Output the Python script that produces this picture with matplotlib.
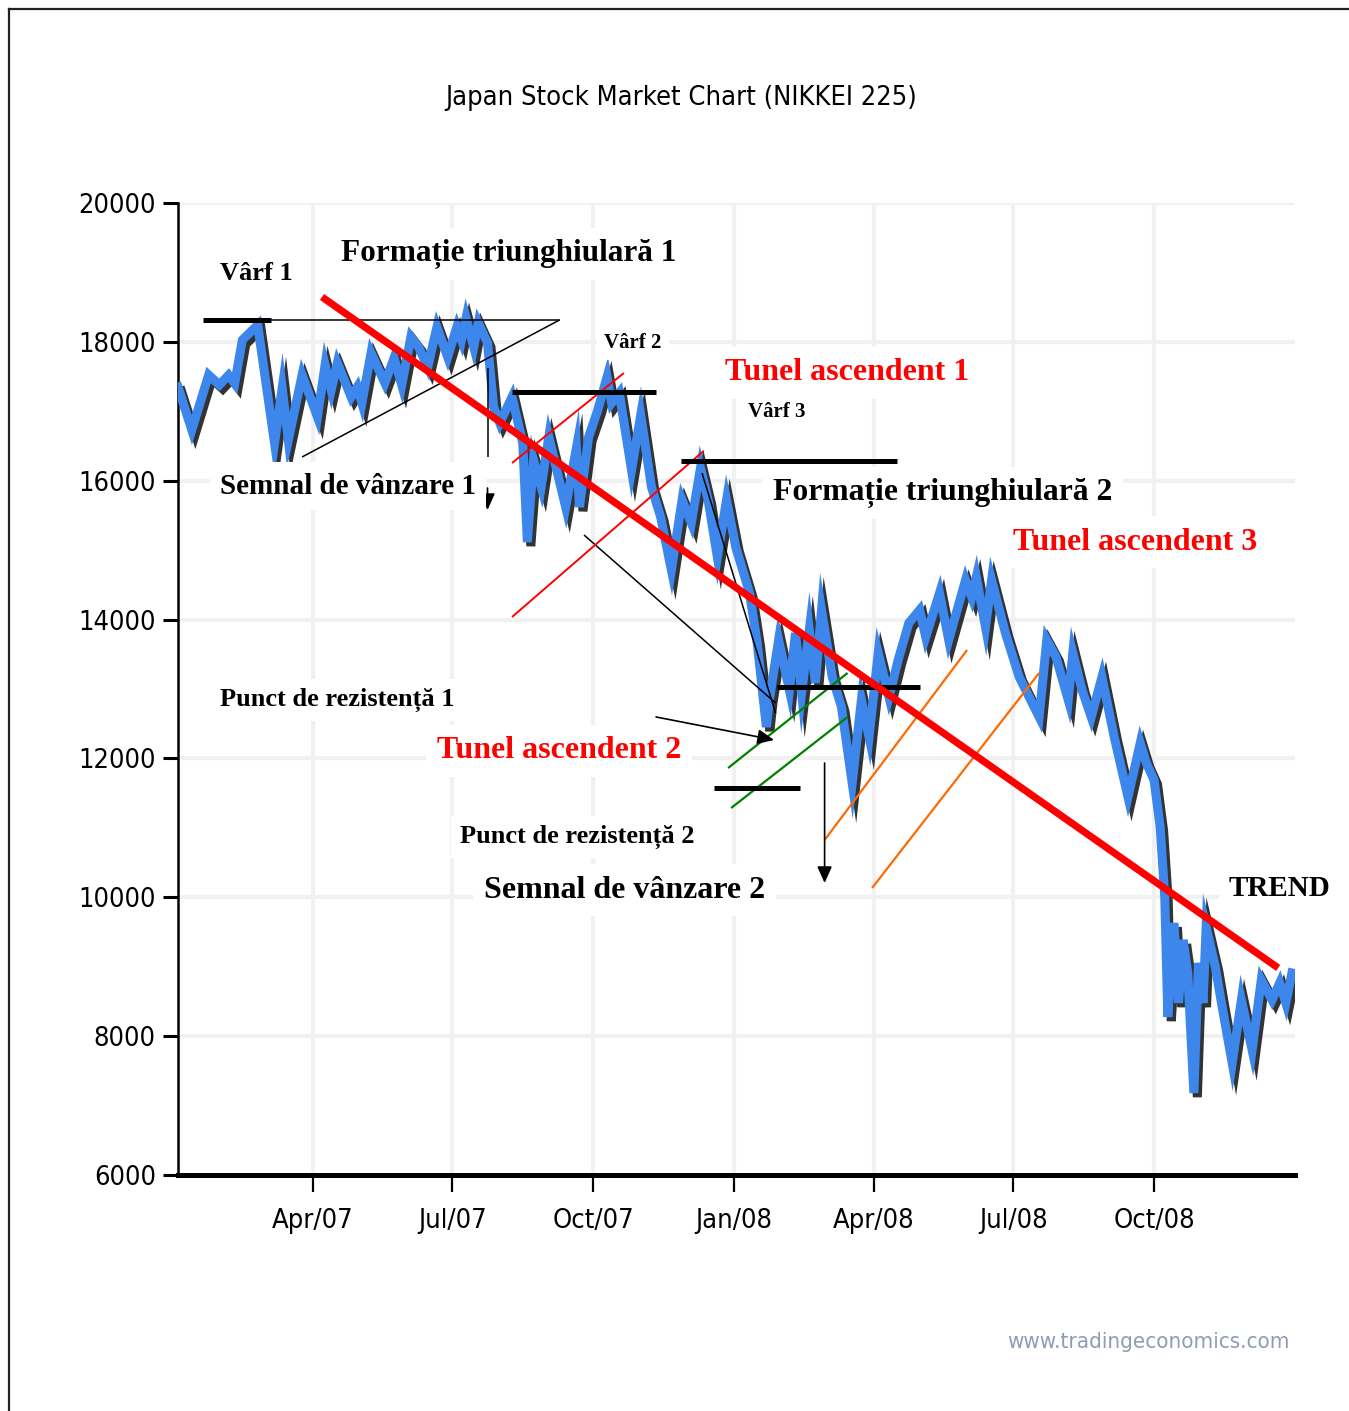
import numpy as np
import matplotlib
matplotlib.use("Agg")
import matplotlib.pyplot as plt
import matplotlib.dates as mdates
import matplotlib.patheffects as pe
from matplotlib import font_manager as fm
from matplotlib.lines import Line2D

# ---------------- data ----------------
dates = [
    "2007-01-03", "2007-01-12", "2007-01-23", "2007-01-30",
    "2007-02-05", "2007-02-09", "2007-02-14", "2007-02-24",
    "2007-03-07", "2007-03-12", "2007-03-16", "2007-03-25",
    "2007-04-04", "2007-04-09", "2007-04-13", "2007-04-17", "2007-04-26", "2007-04-30",
    "2007-05-03", "2007-05-09", "2007-05-18", "2007-05-24", "2007-05-29",
    "2007-06-04", "2007-06-09", "2007-06-15", "2007-06-21", "2007-06-28",
    "2007-07-04", "2007-07-07", "2007-07-10", "2007-07-15", "2007-07-18", "2007-07-24", "2007-07-28",
    "2007-08-01", "2007-08-09", "2007-08-16", "2007-08-19", "2007-08-23", "2007-08-28",
    "2007-09-02", "2007-09-13", "2007-09-20", "2007-09-22", "2007-09-28",
    "2007-10-04", "2007-10-10", "2007-10-13", "2007-10-18", "2007-10-26",
    "2007-11-01", "2007-11-08", "2007-11-14", "2007-11-21", "2007-11-28",
    "2007-12-04", "2007-12-10", "2007-12-15", "2007-12-21", "2007-12-27",
    "2008-01-02", "2008-01-11", "2008-01-16", "2008-01-22", "2008-01-24", "2008-01-30",
    "2008-02-06", "2008-02-10", "2008-02-14", "2008-02-19", "2008-02-23", "2008-02-27",
    "2008-03-05", "2008-03-11", "2008-03-18", "2008-03-24", "2008-03-29",
    "2008-04-04", "2008-04-11", "2008-04-17", "2008-04-24",
    "2008-05-01", "2008-05-05", "2008-05-14", "2008-05-20", "2008-05-31",
    "2008-06-04", "2008-06-07", "2008-06-13", "2008-06-17", "2008-06-26",
    "2008-07-05", "2008-07-18", "2008-07-23", "2008-07-29",
    "2008-08-06", "2008-08-09", "2008-08-15", "2008-08-21", "2008-08-28",
    "2008-09-05", "2008-09-14", "2008-09-22", "2008-09-26",
    "2008-10-01", "2008-10-05", "2008-10-08", "2008-10-10", "2008-10-14",
    "2008-10-17", "2008-10-20", "2008-10-23", "2008-10-27", "2008-10-30",
    "2008-11-02", "2008-11-04", "2008-11-10", "2008-11-14", "2008-11-21", "2008-11-27",
    "2008-12-04", "2008-12-10", "2008-12-17", "2008-12-22", "2008-12-26", "2008-12-30",
]
nikkei = [
    17350, 16731, 17523, 17380,
    17520, 17400, 18027, 18243,
    16543, 17335, 16586, 17523,
    16918, 17667, 17307, 17696, 17206, 17350,
    17119, 17840, 17407, 17768, 17379,
    18070, 17926, 17638, 18214, 17782,
    18214, 18027, 18344, 17926, 18272, 17984, 17062,
    16831, 17206, 16543, 15117, 16298, 15910,
    16630, 15621, 16471, 15621, 16630,
    17019, 17494, 17119, 17263, 16154,
    16947, 15910, 15477, 14714, 15722,
    15391, 16183, 15722, 14901, 15722,
    15045, 14383, 13663, 12453, 12850, 13706,
    12986, 13807, 12943, 13850, 13087, 14138,
    13173, 12741, 11646, 12842, 12309,
    13519, 12885, 13418, 13951,
    14138, 13749, 14383, 13706, 14570,
    14325, 14613, 13893, 14570, 13807,
    13173, 12597, 13706, 13461,
    12842, 13519, 12986, 12597, 13173,
    12309, 11445, 12222, 11934,
    11689, 11013, 10004, 8276, 9630,
    8478, 9385, 8910, 7181, 9054,
    8478, 9572, 8996, 8478, 7613, 8521,
    7801, 8809, 8521, 8766, 8478, 8910,
]

title = "Japan Stock Market Chart (NIKKEI 225)"
y_ticks = [6000, 8000, 10000, 12000, 14000, 16000, 18000, 20000]
x_tick_dates = ["2007-04-01", "2007-07-01", "2007-10-01", "2008-01-01",
                "2008-04-01", "2008-07-01", "2008-10-01"]
x_tick_labels = ["Apr/07", "Jul/07", "Oct/07", "Jan/08", "Apr/08", "Jul/08", "Oct/08"]
x_range = ["2007-01-03", "2009-01-01"]
y_range = [6000, 20000]

# annotation segments: (start date, start value, end date, end value)
trend_line = ("2007-04-07", 18646, "2008-12-21", 8982)
thick_levels = [  # horizontal peak / resistance levels
    ("2007-01-19", "2007-03-05", 18315),
    ("2007-08-09", "2007-11-11", 17278),
    ("2007-11-27", "2008-04-16", 16284),
    ("2008-01-29", "2008-05-01", 13029),
    ("2007-12-19", "2008-02-13", 11574),
]
thin_black = [
    ("2007-03-05", 18315, "2007-09-09", 18315),
    ("2007-09-09", 18315, "2007-03-25", 16342),
    ("2007-07-24", 17624, "2007-07-24", 16342),
    ("2007-12-11", 16111, "2008-01-28", 12654),
    ("2007-09-25", 15218, "2008-01-28", 12799),
]
red_channel = [
    ("2007-08-09", 16255, "2007-10-21", 17551),
    ("2007-08-09", 14037, "2007-12-12", 16428),
]
green_channel = [
    ("2007-12-28", 11862, "2008-03-15", 13231),
    ("2007-12-30", 11286, "2008-03-15", 12597),
]
orange_channel = [
    ("2008-02-29", 10825, "2008-06-01", 13562),
    ("2008-03-31", 10134, "2008-07-18", 13231),
]
arrows = [
    ("2007-07-24", 15895, "2007-07-24", 15578),
    ("2007-11-11", 12597, "2008-01-27", 12266),
    ("2008-02-29", 11934, "2008-02-29", 10206),
]

labels = [  # text, fig-x px, fig-y px, size, colour
    ("Vârf 1", 220, 273, 19, "black"),
    ("Formație triunghiulară 1", 341, 254, 22.5, "black"),
    ("Vârf 2", 604, 343, 15, "black"),
    ("Tunel ascendent 1", 725, 373, 23, "#ff0000"),
    ("Vârf 3", 748, 412, 15, "black"),
    ("Semnal de vânzare 1", 220, 486, 21, "black"),
    ("Formație triunghiulară 2", 773, 493, 22.8, "black"),
    ("Tunel ascendent 3", 1013, 542, 23, "#ff0000"),
    ("Punct de rezistență 1", 220, 700, 19, "black"),
    ("Tunel ascendent 2", 437, 751, 23, "#ff0000"),
    ("Punct de rezistență 2", 460, 837, 19, "black"),
    ("Semnal de vânzare 2", 484, 890, 23, "black"),
    ("TREND", 1229, 888, 21, "black"),
]
watermark = "www.tradingeconomics.com"

# ---------------- fonts ----------------
def _has(name):
    try:
        fm.findfont(fm.FontProperties(family=name), fallback_to_default=False)
        return True
    except Exception:
        return False

NARROW = "Liberation Sans Narrow" if _has("Liberation Sans Narrow") else "DejaVu Sans"
SERIF = "Liberation Serif"
narrow_kw = dict(family=[NARROW, "DejaVu Sans"], stretch="condensed")

# ---------------- figure ----------------
W, H = 1349, 1411
fig = plt.figure(figsize=(W / 100, H / 100), dpi=100)
fig.patch.set_facecolor("white")
ax = fig.add_axes([178 / W, 1 - 1175 / H, (1295 - 178) / W, (1175 - 203) / H])
ax.set_facecolor("white")

d = lambda s: mdates.date2num(np.datetime64(s))
xs = [d(s) for s in dates]

ax.set_xlim(d(x_range[0]), d(x_range[1]))
ax.set_ylim(*y_range)
ax.set_yticks(y_ticks)
ax.set_yticklabels([str(v) for v in y_ticks], fontsize=19.5, **narrow_kw)
ax.set_xticks([d(s) for s in x_tick_dates])
ax.set_xticklabels(x_tick_labels, fontsize=19.5, **narrow_kw)
ax.grid(True, color="#f1f1f1", linewidth=3, zorder=0)
ax.set_axisbelow(True)
for s in ("top", "right"):
    ax.spines[s].set_visible(False)
ax.spines["left"].set_linewidth(1.8)
ax.spines["bottom"].set_linewidth(3.6)
ax.tick_params(axis="y", length=11, width=2.2, pad=5, colors="black")
ax.tick_params(axis="x", length=12, width=1.6, pad=12, colors="black")

# price series with drop shadow
ax.plot(xs, nikkei, color="#3d87ec", linewidth=6.5, solid_joinstyle="miter", zorder=3,
        path_effects=[pe.SimpleLineShadow(offset=(2.5, -3), shadow_color="black", alpha=0.8),
                      pe.Normal()])

def seg(s, **kw):
    ax.plot([d(s[0]), d(s[2])], [s[1], s[3]], solid_capstyle="butt", **kw)

for s in thin_black:
    seg(s, color="black", linewidth=1.1, zorder=4)
for s in red_channel:
    seg(s, color="#ff0000", linewidth=1.4, zorder=4)
for s in green_channel:
    seg(s, color="#008000", linewidth=1.6, zorder=4)
for s in orange_channel:
    seg(s, color="#ff6a00", linewidth=1.6, zorder=4)
for a, b, v in thick_levels:
    ax.plot([d(a), d(b)], [v, v], color="black", linewidth=3.6, solid_capstyle="butt", zorder=5)
seg(trend_line, color="#ff0000", linewidth=5.2, zorder=6)

for s in arrows:
    ax.annotate("", xy=(d(s[2]), s[3]), xytext=(d(s[0]), s[1]), zorder=9,
                arrowprops=dict(arrowstyle="-|>,head_length=1.0,head_width=0.45",
                                color="black", linewidth=1.2, shrinkA=0, shrinkB=0))

# text labels with white boxes
for txt, px, py, size, col in labels:
    fig.text(px / W, 1 - py / H, txt, fontsize=size, fontweight="bold", color=col,
             family=[SERIF, "DejaVu Serif"], ha="left", va="center", zorder=8,
             bbox=dict(boxstyle="square,pad=0.35", fc="white", ec="none"))

fig.text(681 / W, 1 - 98 / H, title, fontsize=19.5, ha="center", va="center", **narrow_kw)
fig.text(1290 / W, 1 - 1342 / H, watermark, fontsize=16, ha="right", va="center",
         color="#8f9cb4", **narrow_kw)

# page border (top and left)
fig.add_artist(Line2D([8.5 / W, 1], [1 - 8.5 / H, 1 - 8.5 / H], color="#222222", linewidth=1.6))
fig.add_artist(Line2D([8.5 / W, 8.5 / W], [0, 1 - 8.5 / H], color="#222222", linewidth=1.6))

fig.savefig("out.png", dpi=100, facecolor="white")
